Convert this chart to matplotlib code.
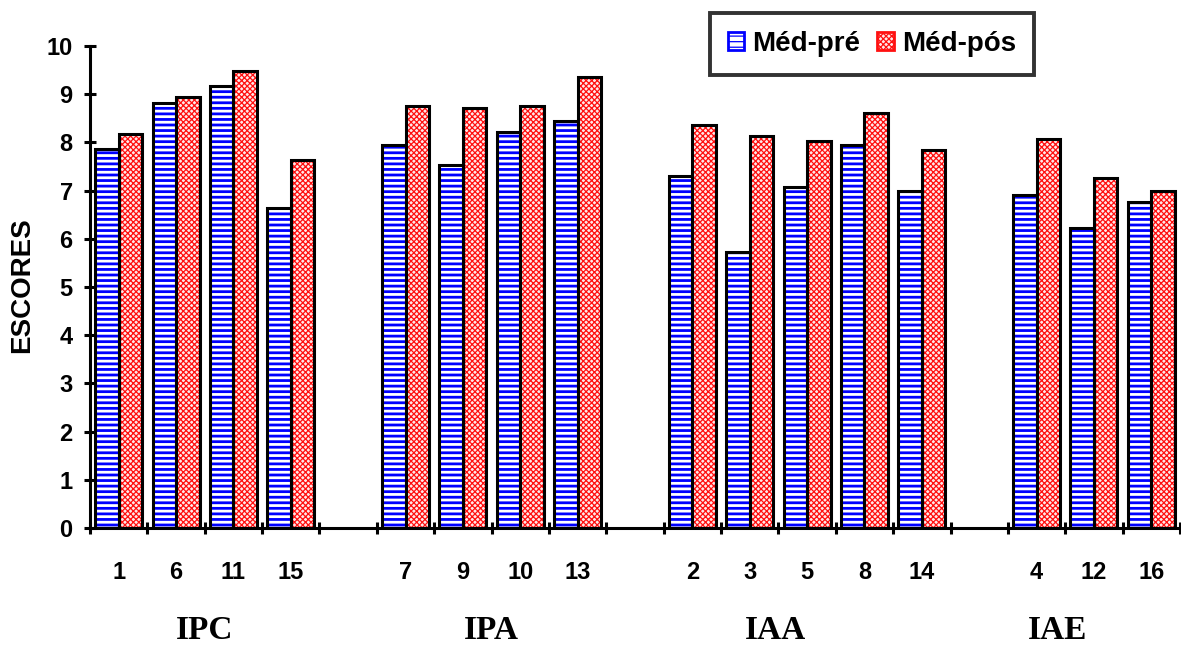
import matplotlib
matplotlib.use("Agg")
import matplotlib.pyplot as plt
from matplotlib.patches import Patch
import numpy as np

plt.rcParams['font.family'] = ['Liberation Sans', 'DejaVu Sans']
plt.rcParams['font.weight'] = 'bold'
plt.rcParams['hatch.linewidth'] = 2.0

# ---- data ----
groups = ["IPC", "IPA", "IAA", "IAE"]
ipc_items = ["1", "6", "11", "15"]
ipa_items = ["7", "9", "10", "13"]
iaa_items = ["2", "3", "5", "8", "14"]
iae_items = ["4", "12", "16"]

ipc_pre = [7.86, 8.81, 9.18, 6.64]
ipc_pos = [8.17, 8.95, 9.48, 7.63]
ipa_pre = [7.94, 7.53, 8.22, 8.44]
ipa_pos = [8.76, 8.72, 8.76, 9.36]
iaa_pre = [7.31, 5.72, 7.08, 7.94, 7.00]
iaa_pos = [8.36, 8.13, 8.03, 8.62, 7.84]
iae_pre = [6.91, 6.22, 6.77]
iae_pos = [8.08, 7.27, 6.99]

series_names = ["Méd-pré", "Méd-pós"]
y_ticks = [0, 1, 2, 3, 4, 5, 6, 7, 8, 9, 10]

# ---- assemble slots (one empty slot between groups) ----
items_all = [ipc_items, ipa_items, iaa_items, iae_items]
pre_all = [ipc_pre, ipa_pre, iaa_pre, iae_pre]
pos_all = [ipc_pos, ipa_pos, iaa_pos, iae_pos]

xs, labels, pre, pos = [], [], [], []
slot = 0
for gi, items in enumerate(items_all):
    for j, lab in enumerate(items):
        xs.append(slot + 0.5)
        labels.append(lab)
        pre.append(pre_all[gi][j])
        pos.append(pos_all[gi][j])
        slot += 1
    if gi < len(items_all) - 1:
        slot += 1
n_slots = slot
xs = np.array(xs)

fig = plt.figure(figsize=(11.81, 6.46), dpi=100)
ax = fig.add_axes([90/1181, 1 - 528/646, (1180-90)/1181, (528-46)/646])

w = 0.41
blue = "#0000FF"
red = "#FF1010"

# hatched fills
ax.bar(xs - w/2, pre, width=w, color="white", edgecolor=blue, hatch="---",
       linewidth=0, zorder=2)
plt.rcParams['hatch.linewidth'] = 0.9
ax.bar(xs + w/2, pos, width=w, color="#FFE8E8", edgecolor=red, hatch="xxxxxx",
       linewidth=0, zorder=2)
# black outlines
ax.bar(xs - w/2, pre, width=w, fill=False, edgecolor="black", linewidth=2.2, zorder=3)
ax.bar(xs + w/2, pos, width=w, fill=False, edgecolor="black", linewidth=2.2, zorder=3)

ax.set_xlim(0, n_slots)
ax.set_ylim(0, 10)

for s in ["top", "right"]:
    ax.spines[s].set_visible(False)
for s in ["left", "bottom"]:
    ax.spines[s].set_linewidth(2.2)
    ax.spines[s].set_zorder(4)

ax.set_yticks(y_ticks)
ax.set_yticklabels([str(t) for t in y_ticks], fontsize=17, fontweight='bold')
ax.tick_params(axis='y', direction='inout', length=9, width=2.2, pad=8)

ax.set_xticks(np.arange(0, n_slots + 1))
ax.set_xticklabels([])
ax.tick_params(axis='x', which='major', direction='inout', length=9, width=2.2)
ax.set_xticks(xs, minor=True)
ax.set_xticklabels(labels, minor=True, fontsize=17, fontweight='bold')
ax.tick_params(axis='x', which='minor', length=0, pad=24)

# group labels
group_x = [2.0, 7.0, 11.95, 16.86]
for g, gx in zip(groups, group_x):
    ax.text(gx, -0.212, g, transform=ax.get_xaxis_transform(), ha='center',
            va='center', fontsize=24, fontweight='bold',
            family=['Liberation Serif', 'DejaVu Serif'])

fig.text(22/1181, 1 - 285/646, "ESCORES", rotation=90, ha='center', va='center',
         fontsize=20, fontweight='bold')

# legend
handles = [Patch(facecolor="white", edgecolor=blue, hatch="---", label=series_names[0]),
           Patch(facecolor="#FFE8E8", edgecolor=red, hatch="xxxxxx", label=series_names[1])]
leg = fig.legend(handles=handles, loc='center', ncol=2,
                 bbox_to_anchor=(872/1181, 1 - 44/646),
                 prop={'weight': 'bold', 'size': 20},
                 frameon=True, fancybox=False, edgecolor='black',
                 handlelength=0.6, handleheight=0.6, handletextpad=0.3,
                 columnspacing=0.6, borderpad=0.65, borderaxespad=0)
leg.get_frame().set_linewidth(2.8)
for h in leg.legend_handles:
    h.set_linewidth(2)

fig.savefig("out.png", dpi=100, facecolor="white")
